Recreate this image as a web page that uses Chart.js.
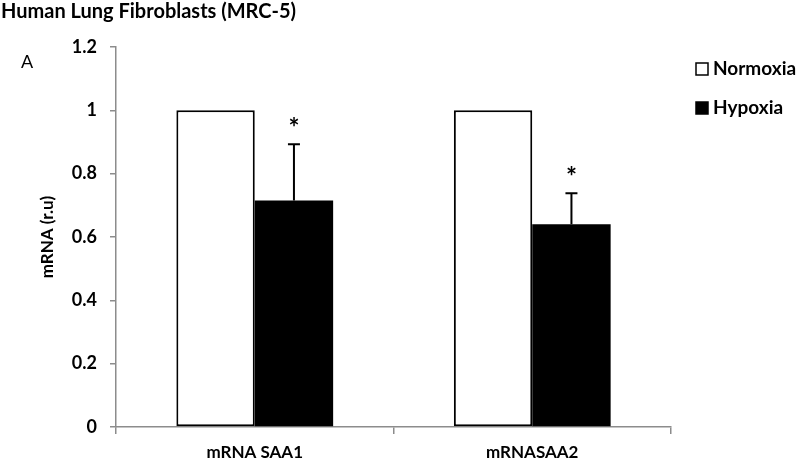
<!DOCTYPE html>
<html><head><meta charset="utf-8">
<script src="https://cdn.jsdelivr.net/npm/chart.js@4"></script>
<style>html,body{margin:0;padding:0;background:#fff}#w{width:800px;height:465px}</style>
</head><body><div id="w"><canvas id="c"></canvas></div>
<script>
const categories = ["mRNA SAA1", "mRNASAA2"];
const seriesNames = ["Normoxia", "Hypoxia"];
const normoxia = [1.0, 1.0];
const hypoxia = [0.715, 0.64];
const hypoxiaErr = [0.178, 0.098];
const significant = [true, true];
const yTicks = [0, 0.2, 0.4, 0.6, 0.8, 1, 1.2];
const titleText = "Human Lung Fibroblasts (MRC-5)";
const panelLabel = "A";
const yTitle = "mRNA (r.u)";

const FONT = "Lato, 'Open Sans', sans-serif";

const overlay = {
  id: 'overlay',
  afterDatasetsDraw(chart) {
    const ctx = chart.ctx;
    const meta = chart.getDatasetMeta(1);
    const y = chart.scales.y;
    ctx.save();
    meta.data.forEach((bar, i) => {
      const topV = hypoxia[i] + hypoxiaErr[i];
      const yTop = y.getPixelForValue(topV);
      const yBar = y.getPixelForValue(hypoxia[i]);
      ctx.strokeStyle = '#000';
      ctx.lineWidth = 2;
      ctx.beginPath();
      ctx.moveTo(bar.x, yBar);
      ctx.lineTo(bar.x, yTop);
      ctx.moveTo(bar.x - 6, yTop);
      ctx.lineTo(bar.x + 6, yTop);
      ctx.stroke();
      if (significant[i]) {
        ctx.fillStyle = '#000';
        ctx.font = "bold 26px " + FONT;
        ctx.textAlign = 'center';
        ctx.textBaseline = 'middle';
        ctx.fillText('*', bar.x, yTop - 16);
      }
    });
    ctx.restore();
  },
  afterDraw(chart) {
    const ctx = chart.ctx;
    ctx.save();
    ctx.fillStyle = '#000';
    ctx.textBaseline = 'middle';
    ctx.textAlign = 'left';
    ctx.font = "bold 20px " + FONT;
    ctx.fillText(titleText, 1, 12);
    ctx.font = "18px " + FONT;
    ctx.fillText(panelLabel, 21, 62);
    const items = [
      {name: seriesNames[0], fill: '#fff', y: 69},
      {name: seriesNames[1], fill: '#000', y: 108}
    ];
    items.forEach(it => {
      ctx.fillStyle = it.fill;
      ctx.strokeStyle = '#000';
      ctx.lineWidth = 1.5;
      ctx.fillRect(696, it.y - 6, 12, 12);
      ctx.strokeRect(696, it.y - 6, 12, 12);
      ctx.fillStyle = '#000';
      ctx.font = "bold 19px " + FONT;
      ctx.fillText(it.name, 713, it.y);
    });
    ctx.restore();
  }
};

new Chart(document.getElementById('c'), {
  type: 'bar',
  data: {
    labels: categories,
    datasets: [
      {label: seriesNames[0], data: normoxia, backgroundColor: '#fff', borderColor: '#000', borderWidth: 2, borderSkipped: false},
      {label: seriesNames[1], data: hypoxia, backgroundColor: '#000', borderColor: '#000', borderWidth: 0}
    ]
  },
  options: {
    responsive: true,
    maintainAspectRatio: false,
    animation: false,
    layout: {padding: {left: 0, right: 129, top: 47, bottom: 0}},
    plugins: {legend: {display: false}, tooltip: {enabled: false}},
    datasets: {bar: {categoryPercentage: 0.565, barPercentage: 1.0}},
    scales: {
      x: {
        offset: true,
        grid: {display: true, drawOnChartArea: false, offset: true, tickLength: 7, color: '#8c8c8c', lineWidth: 1.5},
        border: {color: '#8c8c8c', width: 1.5},
        ticks: {color: '#000', font: {family: FONT, size: 17, weight: 'bold'}, padding: 8},
        afterFit(s) { s.height = 38; }
      },
      y: {
        min: 0, max: 1.2,
        afterBuildTicks(s) { s.ticks = yTicks.map(v => ({value: v})); },
        grid: {display: true, drawOnChartArea: false, tickLength: 6, color: '#8c8c8c', lineWidth: 1.5},
        border: {color: '#8c8c8c', width: 1.5},
        ticks: {color: '#000', font: {family: FONT, size: 18, weight: 'bold'}, padding: 13,
          callback: (v) => String(Math.round(v * 10) / 10)},
        title: {display: true, text: yTitle, color: '#000', font: {family: FONT, size: 17, weight: 'bold'}, padding: {top: 37, bottom: 4}},
        afterFit(s) { s.width = 116; }
      }
    }
  },
  plugins: [overlay]
});
</script>
</body></html>
